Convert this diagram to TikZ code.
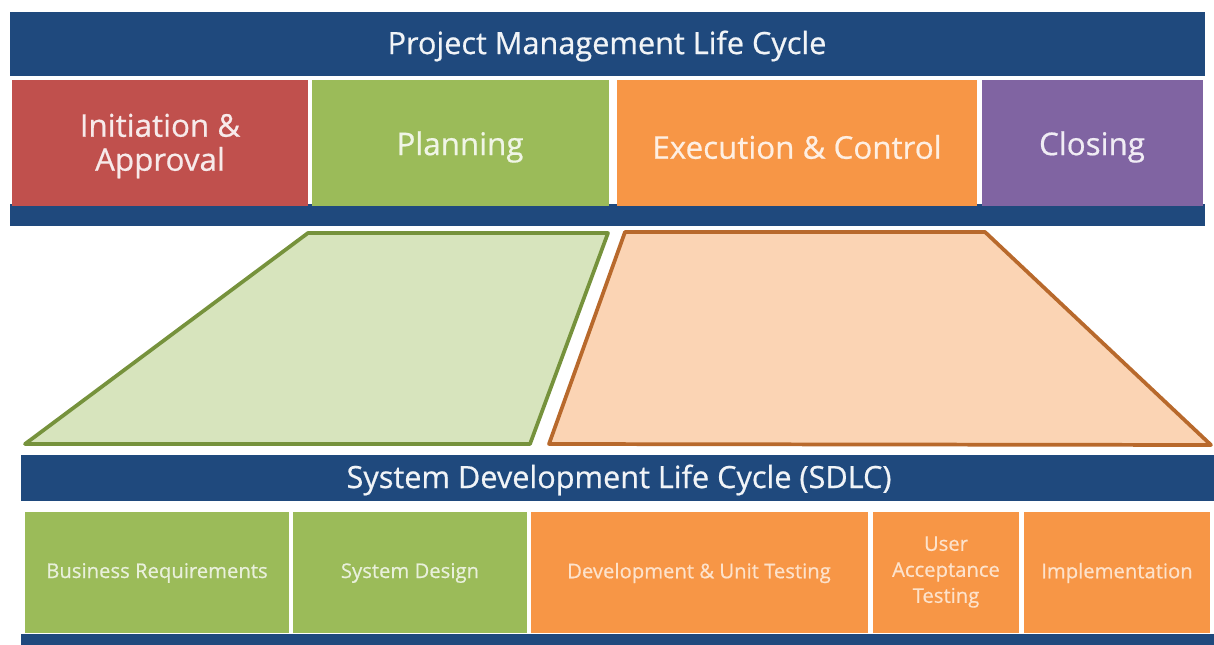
\documentclass[tikz,border=0pt]{standalone}
\usepackage{fontspec}
\setmainfont{Open Sans}[FakeBold=0.6]

\definecolor{navy}{HTML}{1F497D}
\definecolor{pmred}{HTML}{C0504D}
\definecolor{pmgreen}{HTML}{9BBB59}
\definecolor{pmorange}{HTML}{F79646}
\definecolor{pmpurple}{HTML}{8064A2}
\definecolor{lightgreen}{HTML}{D7E4BD}
\definecolor{lightorange}{HTML}{FBD4B4}
\definecolor{edgegreen}{HTML}{76923C}
\definecolor{edgeorange}{HTML}{B8692C}

\tikzset{
  bartext/.style={text=white!94!navy, font=\fontsize{23}{27}\selectfont},
  phase/.style={align=center, font=\fontsize{23.5}{25.5}\selectfont},
  stage/.style={align=center, font=\fontsize{15.2}{19.5}\selectfont},
  funnel/.style={line width=2.8pt, line join=round}
}

\begin{document}
\begin{tikzpicture}[x=0.75pt,y=-0.75pt]
\useasboundingbox (0,0) rectangle (1214,645);

% project management bar and its phases
\fill[navy] (10,12) rectangle (1205,76);
\fill[navy] (10,204) rectangle (1205,226);
\node[bartext] (pmlc) at (607,46) {Project Management Life Cycle};

\fill[pmred] (12,80) rectangle (308,206);
\fill[pmgreen] (312,80) rectangle (609,206);
\fill[pmorange] (617,80) rectangle (977,206);
\fill[pmpurple] (982,80) rectangle (1203,206);
\node[phase, text=white!88!pmred] (init) at (160,146) {Initiation \&\\Approval};
\node[phase, text=white!85!pmgreen] (plan) at (460,147) {Planning};
\node[phase, text=white!85!pmorange] (exec) at (797,147) {Execution \& Control};
\node[phase, text=white!88!pmpurple] (close) at (1092,147) {Closing};

% funnels down to the sdlc
\filldraw[funnel, fill=lightgreen, draw=edgegreen]
  (308,233) -- (608,233) -- (530,444) -- (25,444) -- cycle;
\filldraw[funnel, fill=lightorange, draw=edgeorange]
  (625,232) -- (985,232) -- (1211,445) -- (549,444) -- cycle;

% system development bar and its stages
\fill[navy] (21,455) rectangle (1214,501);
\fill[navy] (21,634) rectangle (1214,645);
\node[bartext] (sdlc) at (619,480) {System Development Life Cycle (SDLC)};

\fill[pmgreen] (25,512) rectangle (289,633);
\fill[pmgreen] (293,512) rectangle (527,633);
\fill[pmorange] (531,512) rectangle (868,633);
\fill[pmorange] (873,512) rectangle (1019,633);
\fill[pmorange] (1024,512) rectangle (1210,633);
\node[stage, text=white!78!pmgreen] (busreq) at (157,573) {Business Requirements};
\node[stage, text=white!78!pmgreen] (sysdes) at (410,573) {System Design};
\node[stage, text=white!72!pmorange] (devut) at (699,573) {Development \& Unit Testing};
\node[stage, text=white!72!pmorange] (uat) at (946,572) {User\\Acceptance\\Testing};
\node[stage, text=white!72!pmorange] (impl) at (1117,573) {Implementation};
\end{tikzpicture}
\end{document}
